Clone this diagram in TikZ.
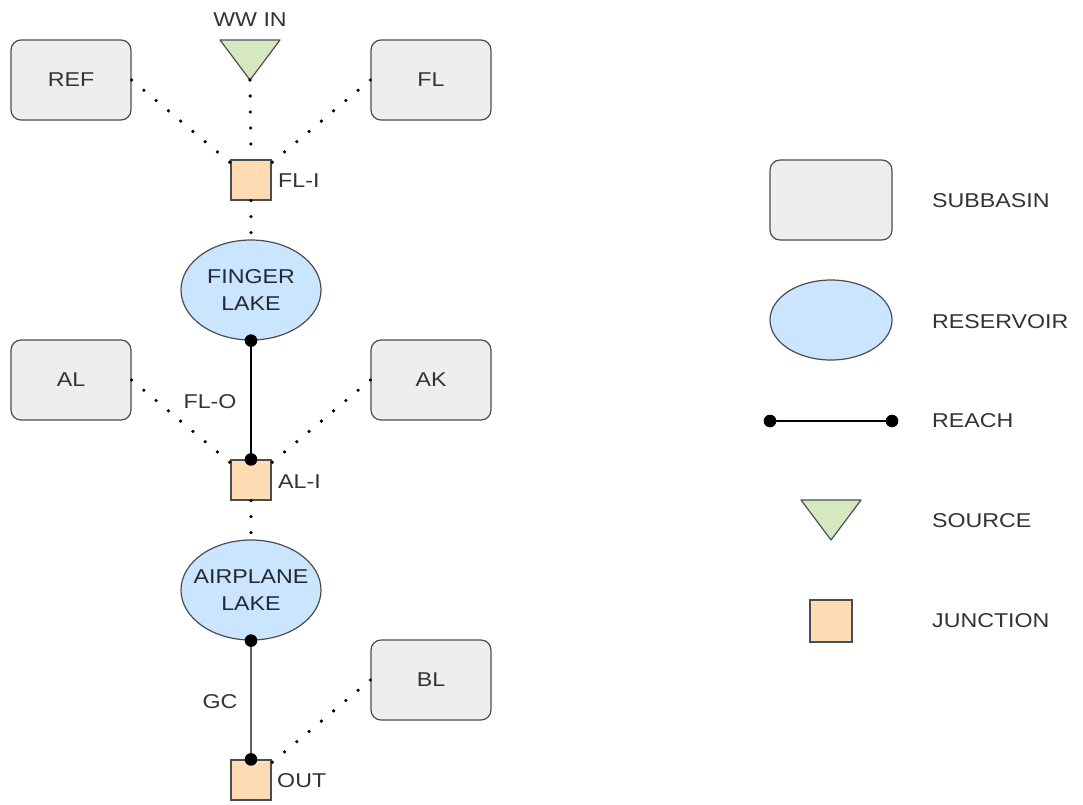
\documentclass[tikz,border=0pt]{standalone}
\usepackage{fontspec}
\setmainfont{Liberation Sans}[FakeStretch=1.16]
\usetikzlibrary{shapes.geometric}

\definecolor{subfill}{HTML}{EEEEEE}
\definecolor{resfill}{HTML}{CCE5FF}
\definecolor{srcfill}{HTML}{D5E8C0}
\definecolor{junfill}{HTML}{FFDCB4}
\definecolor{strokegray}{HTML}{4A4D52}
\definecolor{labelgray}{HTML}{333333}
\definecolor{laketext}{HTML}{1F2A36}
\definecolor{reachgray}{HTML}{666666}

\begin{document}
\begin{tikzpicture}[x=1pt,y=-1pt,
  every node/.style={font=\fontsize{20}{27}\selectfont, text=labelgray},
  subbasin/.style={draw=strokegray, fill=subfill, rounded corners=10pt,
    minimum width=120pt, minimum height=80pt, line width=1.2pt},
  reservoir/.style={ellipse, draw=strokegray, fill=resfill, inner sep=0pt,
    minimum width=140pt, minimum height=100pt, line width=1.2pt},
  lakelbl/.style={align=center, text=laketext, inner sep=0pt},
  junction/.style={draw=strokegray, fill=junfill, minimum size=40pt,
    inner sep=0pt, line width=1.2pt},
  source/.style={draw=strokegray, fill=srcfill, line width=1.2pt, line join=round},
  flow/.style={line width=3.6pt, line cap=round, dash pattern=on 0pt off 16pt},
  reach/.style={line width=1.8pt},
  lbl/.style={inner sep=0pt}
]
\useasboundingbox (0,0) rectangle (1083,804);

% ---- subbasins ----
\node[subbasin] (ref) at (71,80)  {REF};
\node[subbasin] (fl)  at (431,80) {FL};
\node[subbasin] (al)  at (71,380) {AL};
\node[subbasin] (ak)  at (431,380) {AK};
\node[subbasin] (bl)  at (431,680) {BL};

% ---- source ----
\draw[source] (220,40) -- (280,40) -- (250,80) -- cycle;
\coordinate (wwin) at (250,80);
\node[lbl] (wwinlbl) at (250,20) {WW IN};

% ---- junctions ----
\node[junction] (jfli) at (251,180) {};
\node[junction] (jali) at (251,480) {};
\node[junction] (jout) at (251,780) {};
\node[lbl, anchor=west] (flilbl) at (278,181) {FL-I};
\node[lbl, anchor=west] (alilbl) at (278,482) {AL-I};
\node[lbl, anchor=west] (outlbl) at (277,781) {OUT};

% ---- reservoirs ----
\node[reservoir, label={[lakelbl]center:FINGER\\LAKE}] (finger) at (251,290) {};
\node[reservoir, label={[lakelbl]center:AIRPLANE\\LAKE}] (airplane) at (251,590) {};

% ---- local inflows ----
\draw[flow] (ref.east) -- (jfli);
\draw[flow] (fl.west) -- (jfli);
\draw[flow] (wwin) -- (jfli.north);
\draw[flow] (jfli.south) -- (finger.north);
\draw[flow] (al.east) -- (jali);
\draw[flow] (ak.west) -- (jali);
\draw[flow] (jali.south) -- (airplane.north);
\draw[flow] (bl.west) -- (jout);

% ---- reaches ----
\draw[reach] (finger.south) -- (jali.north);
\fill (finger.south) circle (6.3pt);
\fill (jali.north) circle (6.3pt);
\node[lbl] (flolbl) at (210,402) {FL-O};

\draw[reach, draw=reachgray, line width=2.2pt] (airplane.south) -- (jout.north);
\fill (airplane.south) circle (6.3pt);
\fill (jout.north) circle (6.3pt);
\node[lbl] (gclbl) at (220,702) {GC};

% ---- legend ----
\node[subbasin, minimum width=122pt] (legsub) at (831,200) {};
\node[lbl, anchor=west] (legsublbl) at (932,201) {SUBBASIN};

\node[reservoir, minimum width=122pt, minimum height=80pt] (legres) at (831,320) {};
\node[lbl, anchor=west] (legreslbl) at (932,322) {RESERVOIR};

\coordinate (legr1) at (770,421);
\coordinate (legr2) at (892,421);
\draw[reach] (legr1) -- (legr2);
\fill (legr1) circle (6.3pt);
\fill (legr2) circle (6.3pt);
\node[lbl, anchor=west] (legreachlbl) at (932,421) {REACH};

\draw[source] (801,500) -- (861,500) -- (831,540) -- cycle;
\node[lbl, anchor=west] (legsrclbl) at (932,521) {SOURCE};

\node[junction, minimum size=42pt] (legjun) at (831,621) {};
\node[lbl, anchor=west] (legjunlbl) at (932,621) {JUNCTION};
\end{tikzpicture}
\end{document}
